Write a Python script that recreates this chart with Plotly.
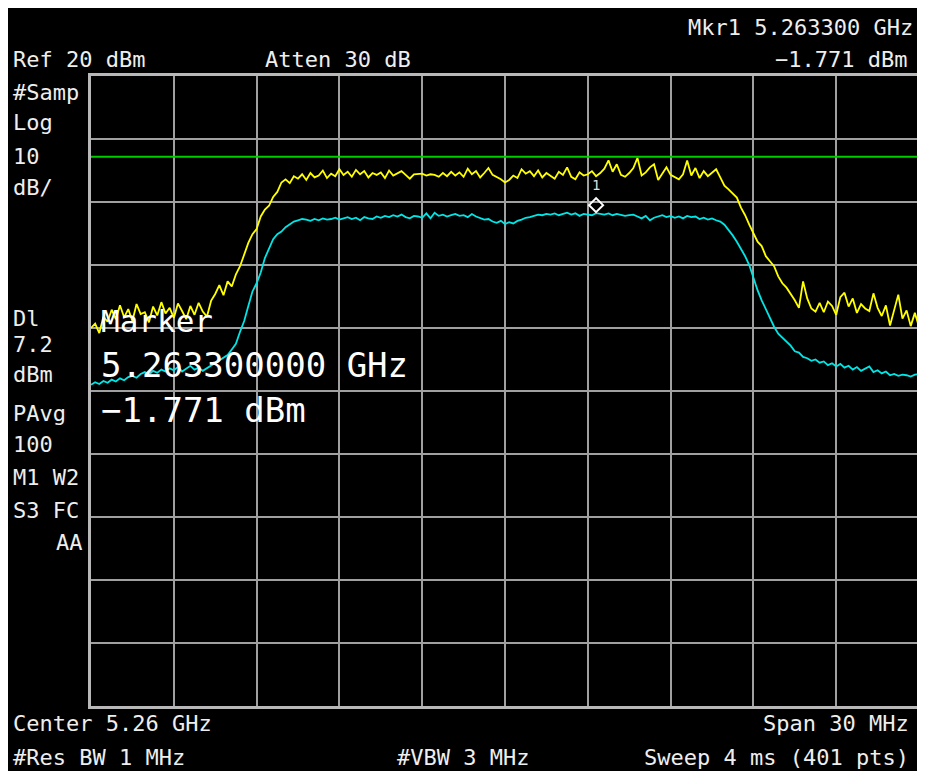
import plotly.graph_objects as go

# ---------------- data ----------------
center_ghz = 5.26
span_ghz = 0.030
n_pts = 201
start_ghz = center_ghz - span_ghz / 2
step_ghz = span_ghz / (n_pts - 1)
freq_ghz = [start_ghz + i * step_ghz for i in range(n_pts)]

yellow_dbm = [
    -20.0, -19.3, -20.8, -18.2, -19.0, -17.1, -18.6, -16.4, -18.3, -17.0,
    -18.9, -16.2, -17.8, -17.5, -19.1, -16.6, -18.0, -15.9, -17.7, -16.8,
    -18.4, -16.1, -17.3, -18.6, -16.5, -17.9, -16.0, -17.4, -18.2, -15.7,
    -14.6, -13.2, -14.8, -12.6, -13.4, -11.5, -10.2, -8.4, -6.5, -5.1,
    -4.3, -2.3, -1.2, -0.6, 0.8, 1.6, 3.1, 3.6, 3.0, 4.1,
    3.7, 4.4, 3.5, 4.6, 3.9, 4.2, 5.0, 3.8, 4.5, 4.1,
    5.2, 4.3, 4.8, 4.0, 5.1, 4.4, 4.9, 3.9, 4.6, 4.3,
    4.7, 3.8, 5.0, 4.2, 4.6, 4.9, 4.3, 3.7, 4.4, 4.5,
    4.5, 4.2, 4.4, 4.3, 4.0, 4.6, 4.1, 4.8, 4.2, 4.7,
    4.0, 5.3, 4.4, 4.9, 3.9, 4.6, 5.4, 4.3, 4.0, 3.6,
    3.1, 3.5, 4.2, 3.8, 5.2, 4.5, 4.9, 4.1, 5.0, 3.9,
    4.6, 4.1, 3.7, 4.8, 4.3, 5.5, 4.0, 3.6, 4.7, 4.2,
    4.4, 4.9, 4.1, 4.6, 5.3, 6.6, 4.8, 6.0, 4.3, 4.0,
    4.6, 5.4, 7.0, 4.2, 4.7, 5.5, 6.0, 3.5, 4.6, 5.5,
    4.3, 4.0, 3.6, 4.4, 6.6, 4.2, 5.4, 3.8, 4.9, 4.1,
    4.6, 5.2, 3.9, 2.6, 2.0, 1.4, 0.7, -0.9, -2.1, -3.6,
    -4.9, -6.3, -7.0, -8.6, -9.4, -10.2, -11.8, -12.9, -13.6, -14.5,
    -15.6, -16.8, -12.6, -15.3, -16.9, -17.4, -16.0, -17.5, -15.8, -16.5,
    -17.9, -15.1, -14.4, -16.6, -15.3, -17.6, -16.2, -16.9, -17.3, -14.5,
    -16.8, -18.1, -16.4, -19.6, -17.0, -14.7, -18.5, -17.2, -19.7, -17.6,
    -19.8,
]

cyan_dbm = [
    -29.0, -28.6, -28.9, -28.4, -28.7, -28.2, -28.5, -28.0, -28.3, -27.8,
    -27.6, -27.9, -27.3, -27.0, -27.4, -26.8, -27.1, -26.6, -26.9, -26.4,
    -26.7, -26.2, -26.9, -26.5, -26.0, -26.6, -26.3, -26.8, -26.4, -25.9,
    -25.5, -25.1, -24.7, -24.3, -23.4, -22.5, -20.6, -18.9, -16.5, -14.2,
    -12.9, -11.2, -8.9, -7.3, -5.9, -5.1, -4.7, -4.0, -3.5, -3.1,
    -2.9, -2.7, -2.8, -3.0, -2.7, -2.9, -2.6, -2.8, -2.7, -2.5,
    -2.8, -2.6, -2.4, -2.7, -2.5, -2.9, -2.4, -2.6, -2.7, -2.3,
    -2.5, -2.2, -2.4, -2.1, -2.3, -2.0, -2.4, -2.6, -2.2, -2.3,
    -2.5, -1.8, -2.6, -1.7, -2.2, -2.0, -2.3, -2.1, -1.9, -2.2,
    -2.1, -2.4, -1.9, -2.3, -2.6, -2.8, -2.7, -3.1, -3.3, -3.0,
    -3.5, -3.2, -3.4, -3.0, -2.8, -2.5, -2.4, -2.2, -2.0, -2.1,
    -1.9, -2.0, -1.8, -2.1, -1.9, -1.7, -2.0, -1.8, -2.2, -1.9,
    -2.0, -2.1, -1.771, -1.9, -2.0, -1.8, -2.1, -1.9, -2.0, -2.2,
    -2.1, -2.0, -2.3, -2.6, -2.2, -2.9, -2.5, -2.3, -2.1, -2.4,
    -2.2, -2.5, -2.3, -2.6, -2.2, -2.4, -2.3, -2.7, -2.5, -2.8,
    -2.6, -2.9, -3.1, -3.6, -4.4, -5.3, -6.3, -7.4, -8.6, -10.0,
    -12.2, -14.0, -15.6, -17.0, -18.4, -19.8, -20.9, -21.5, -22.2, -22.8,
    -23.7, -23.9, -24.6, -24.8, -25.2, -25.0, -25.5, -25.3, -25.9, -25.6,
    -26.1, -25.7, -26.3, -26.0, -26.6, -26.2, -26.8, -26.4, -26.1, -27.0,
    -26.7, -27.2, -26.9, -27.5, -27.3, -27.6, -27.4, -27.5, -27.7, -27.4,
    -27.3,
]

ref_level_dbm = 20
db_per_div = 10
display_line_dbm = 7.2
marker_freq_ghz = 5.2633
marker_dbm = -1.771

top_left_texts = ["Ref 20 dBm", "Atten 30 dB"]
marker_header = ["Mkr1 5.263300 GHz", "\u22121.771 dBm"]
side_texts = ["#Samp", "Log", "10", "dB/", "Dl", "7.2", "dBm", "PAvg", "100", "M1 W2", "S3 FC"]
side_text_right = "AA"
bottom_texts = ["Center 5.26 GHz", "Span 30 MHz", "#Res BW 1 MHz", "#VBW 3 MHz", "Sweep 4 ms (401 pts)"]
marker_box = ["Marker", "5.263300000 GHz", "\u22121.771 dBm"]

# ---------------- layout helpers ----------------
OFF = 8                      # page body margin in the browser
W, H = 925 - OFF, 771 - OFF  # figure size so that it fits the window exactly
ML, MR, MT, MB = 83, 3, 68, 65
PW = W - ML - MR
PH = H - MT - MB


def px(x):
    """screen pixel x -> paper coordinate"""
    return (x - OFF - ML) / PW


def py(y):
    """screen pixel y -> paper coordinate"""
    return (H - MB - (y - OFF)) / PH


FONT = "DejaVu Sans Mono"
TXT = "#eeeeee"

fig = go.Figure()

fig.add_trace(go.Scatter(x=freq_ghz, y=yellow_dbm, mode="lines",
                         line=dict(color="#ffff00", width=1.8), hoverinfo="skip"))
fig.add_trace(go.Scatter(x=freq_ghz, y=cyan_dbm, mode="lines",
                         line=dict(color="#00e5e5", width=1.8), hoverinfo="skip"))

shapes = []
# display line
shapes.append(dict(type="line", xref="paper", yref="y", x0=0, x1=1,
                   y0=display_line_dbm, y1=display_line_dbm,
                   line=dict(color="#00cc00", width=2)))
# marker diamond (bottom tip at the marker point)
shapes.append(dict(type="path", xref="x", yref="y",
                   xsizemode="pixel", ysizemode="pixel",
                   xanchor=marker_freq_ghz, yanchor=marker_dbm,
                   path="M0,1 L7,8 L0,15 L-7,8 Z",
                   line=dict(color="white", width=2), fillcolor="rgba(0,0,0,0)"))

ann = []


def add_text(t, x, y, size=22, xanchor="left", color=TXT):
    ann.append(dict(text=t, x=px(x), y=py(y), xref="paper", yref="paper",
                    xanchor=xanchor, yanchor="middle", showarrow=False,
                    font=dict(family=FONT, size=size, color=color)))


add_text(top_left_texts[0], 11, 59)
add_text(top_left_texts[1], 264, 59)
add_text(marker_header[0], 918, 27, xanchor="right")
add_text(marker_header[1], 912, 59, xanchor="right")

side_y = [92, 123, 156, 187, 318, 344, 374, 413, 445, 478, 510]
for t, yy in zip(side_texts, side_y):
    add_text(t, 11, yy)
add_text(side_text_right, 85, 542, xanchor="right")

add_text(bottom_texts[0], 11, 724)
add_text(bottom_texts[1], 914, 724, xanchor="right")
add_text(bottom_texts[2], 11, 757)
add_text(bottom_texts[3], 396, 757)
add_text(bottom_texts[4], 914, 757, xanchor="right")

add_text(marker_box[0], 99, 321, size=31, color="white")
add_text(marker_box[1], 99, 365, size=34, color="white")
add_text(marker_box[2], 99, 410, size=34, color="white")

# marker number label
ann.append(dict(text="1", x=marker_freq_ghz, y=marker_dbm, xref="x", yref="y",
                yshift=28, showarrow=False,
                font=dict(family=FONT, size=14, color="#dddddd")))

fig.update_layout(
    width=W, height=H,
    margin=dict(l=ML, r=MR, t=MT, b=MB, pad=0),
    paper_bgcolor="black",
    plot_bgcolor="black",
    showlegend=False,
    shapes=shapes,
    annotations=ann,
    xaxis=dict(range=[start_ghz, start_ghz + span_ghz], tick0=start_ghz, dtick=span_ghz / 10,
               showgrid=True, gridcolor="#a0a0a0", gridwidth=2, zeroline=False,
               showticklabels=False, ticks="", showline=True, mirror=True,
               linecolor="#b8b8b8", linewidth=3, fixedrange=True),
    yaxis=dict(range=[ref_level_dbm - 10 * db_per_div, ref_level_dbm], tick0=ref_level_dbm,
               dtick=db_per_div, showgrid=True, gridcolor="#a0a0a0", gridwidth=2,
               zeroline=False, showticklabels=False, ticks="", showline=True,
               mirror=True, linecolor="#b8b8b8", linewidth=3, fixedrange=True),
)

fig.write_html("out.html", config={"displayModeBar": False})
